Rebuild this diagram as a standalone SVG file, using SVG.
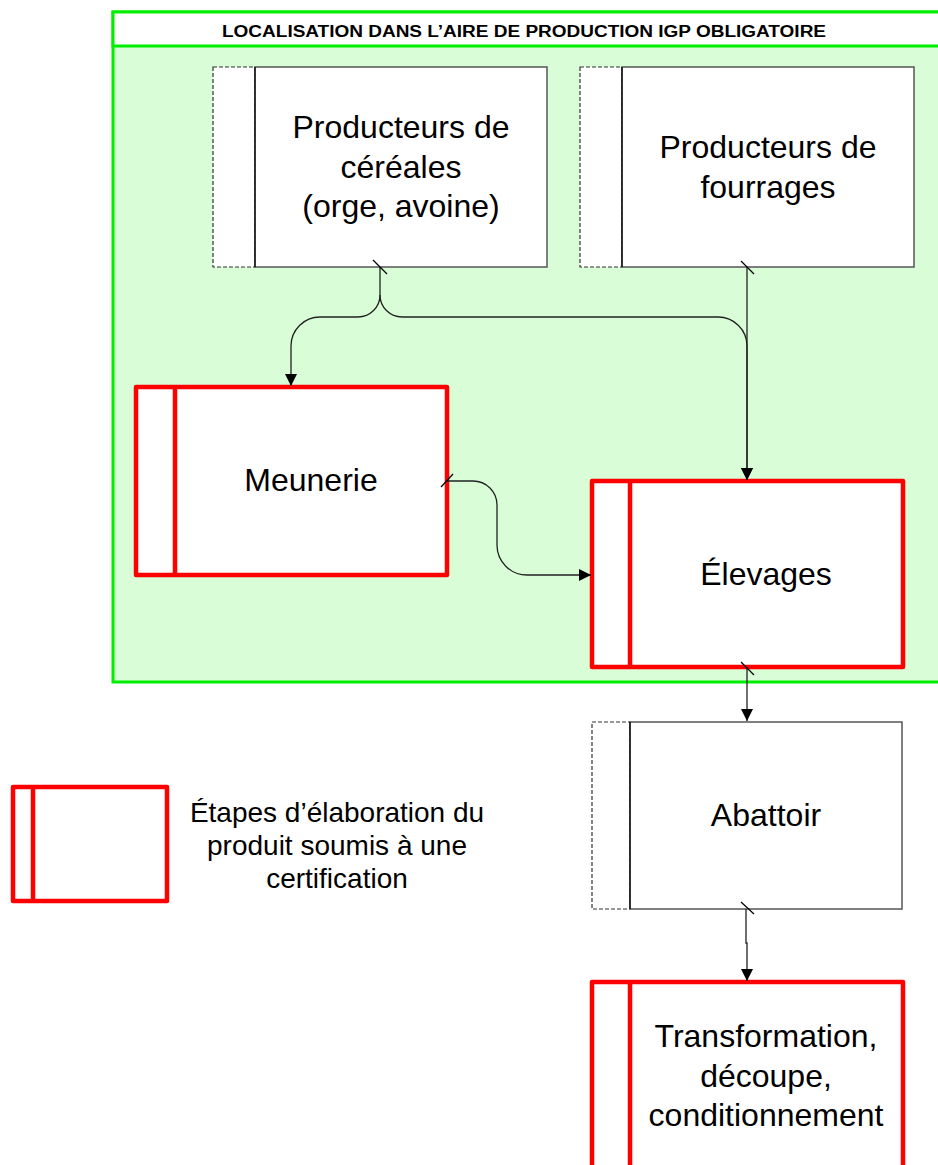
<svg xmlns="http://www.w3.org/2000/svg" width="938" height="1165" viewBox="0 0 938 1165">
<defs>
<style>
.lbl{font-family:"Liberation Sans",Arial,sans-serif;font-size:32px;fill:#000;text-anchor:middle}
.leg{font-family:"Liberation Sans",Arial,sans-serif;font-size:28px;fill:#000;text-anchor:middle}
.hdr{font-family:"Liberation Sans",Arial,sans-serif;font-size:16px;font-weight:bold;fill:#000;text-anchor:middle}
.red{fill:#fff;stroke:#ff0000;stroke-width:4.5;stroke-linejoin:round}
.redl{stroke:#ff0000;stroke-width:4.5;fill:none}
.ext{fill:#fff;stroke:#555;stroke-width:1.5}
.dash{fill:#fff;stroke:#333;stroke-width:1.2;stroke-dasharray:4 2}
.div{stroke:#000;stroke-width:1.2}
.con{fill:none;stroke:#222;stroke-width:1.3}
.tick{stroke:#000;stroke-width:1.2}
</style>
<marker id="arr" viewBox="0 0 12 12" refX="12" refY="6" markerWidth="12" markerHeight="12" markerUnits="userSpaceOnUse" orient="auto">
<path d="M0,0 L12,6 L0,12 Z" fill="#000"/>
</marker>
</defs>

<g id="zone">
<rect x="113" y="12" width="840" height="670" fill="#d9fdd7" stroke="#00ee00" stroke-width="3"/>
<rect x="113" y="12" width="840" height="34" fill="#fff" stroke="#00ee00" stroke-width="3"/>
<text class="hdr" x="524" y="37" textLength="604" lengthAdjust="spacingAndGlyphs">LOCALISATION DANS L’AIRE DE PRODUCTION IGP OBLIGATOIRE</text>
</g>

<g id="cereales">
<rect class="dash" x="213" y="67" width="42" height="200"/>
<rect class="ext" x="255" y="67" width="292" height="200"/>
<line class="div" x1="255" y1="67" x2="255" y2="267"/>
<text class="lbl" x="401" y="138">Producteurs de</text>
<text class="lbl" x="401" y="177.5">céréales</text>
<text class="lbl" x="401" y="217">(orge, avoine)</text>
</g>

<g id="fourrages">
<rect class="dash" x="580" y="67" width="42" height="200"/>
<rect class="ext" x="622" y="67" width="292" height="200"/>
<line class="div" x1="622" y1="67" x2="622" y2="267"/>
<text class="lbl" x="768" y="158">Producteurs de</text>
<text class="lbl" x="768" y="197.5">fourrages</text>
</g>

<g id="meunerie">
<rect class="red" x="136" y="387" width="311" height="188"/>
<line class="redl" x1="175" y1="387" x2="175" y2="575"/>
<text class="lbl" x="311" y="491">Meunerie</text>
</g>

<g id="elevages">
<rect class="red" x="592" y="481" width="311" height="186"/>
<line class="redl" x1="630" y1="481" x2="630" y2="667"/>
<text class="lbl" x="766" y="585">Élevages</text>
</g>

<g id="abattoir">
<rect class="dash" x="592" y="722" width="38" height="187"/>
<rect class="ext" x="630" y="722" width="272" height="187"/>
<line class="div" x1="630" y1="722" x2="630" y2="909"/>
<text class="lbl" x="766" y="826">Abattoir</text>
</g>

<g id="transformation">
<rect class="red" x="592" y="982" width="311" height="200"/>
<line class="redl" x1="630" y1="982" x2="630" y2="1182"/>
<text class="lbl" x="766" y="1047">Transformation,</text>
<text class="lbl" x="766" y="1086.5">découpe,</text>
<text class="lbl" x="766" y="1126">conditionnement</text>
</g>

<g id="legende">
<rect class="red" x="13" y="787" width="154" height="114"/>
<line class="redl" x1="33" y1="787" x2="33" y2="901"/>
<text class="leg" x="337" y="822">Étapes d’élaboration du</text>
<text class="leg" x="337" y="855">produit soumis à une</text>
<text class="leg" x="337" y="888">certification</text>
</g>

<g id="connecteurs">
<path class="con" d="M380,267 V295 A22,22 0 0 1 358,317 H320 A29,29 0 0 0 291,346 V386" marker-end="url(#arr)"/>
<path class="con" d="M380,295 A22,22 0 0 0 402,317 H718 A29,29 0 0 1 747,346 V480" marker-end="url(#arr)"/>
<path class="con" d="M747,267 V480" marker-end="url(#arr)"/>
<path class="con" d="M447,481 H473 A24,24 0 0 1 497,505 V545 A30,30 0 0 0 527,575 H591" marker-end="url(#arr)"/>
<path class="con" d="M747,667 V721" marker-end="url(#arr)"/>
<path class="con" d="M746,909 V943 H747 V981" marker-end="url(#arr)"/>
<line class="tick" x1="373" y1="260" x2="387" y2="274"/>
<line class="tick" x1="741" y1="261" x2="754" y2="274"/>
<line class="tick" x1="441" y1="487" x2="453" y2="474"/>
<line class="tick" x1="741" y1="662" x2="754" y2="675"/>
<line class="tick" x1="741" y1="902" x2="754" y2="914"/>
</g>
</svg>
